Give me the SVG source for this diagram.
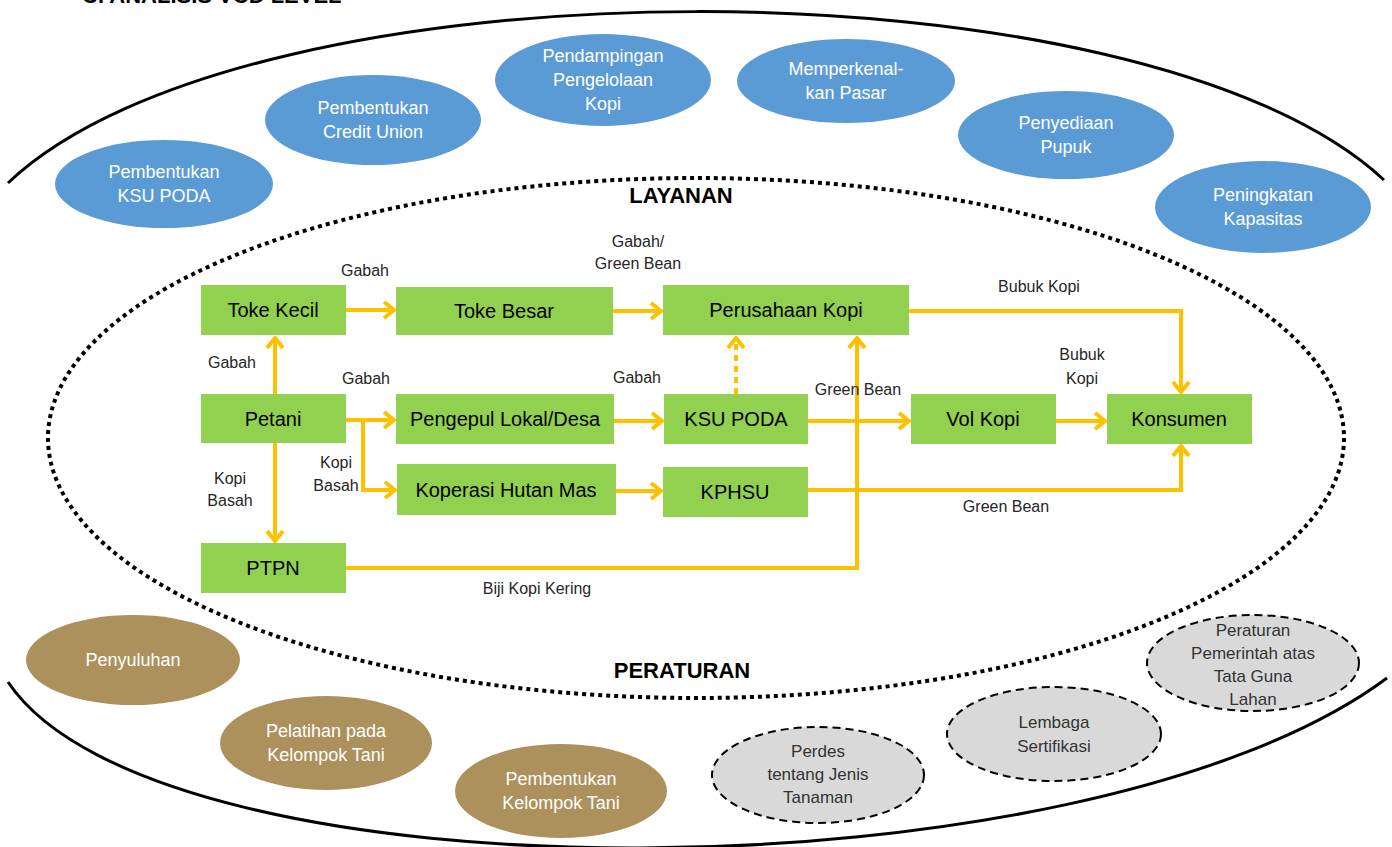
<svg xmlns="http://www.w3.org/2000/svg" width="1392" height="847" viewBox="0 0 1392 847">
  <style>
    .title { font-family: "Liberation Sans", Arial, sans-serif; font-weight: bold; font-size: 22px; fill: #000; }
    .head { font-family: "Liberation Sans Narrow", "Liberation Sans", Arial, sans-serif; font-weight: bold; font-size: 22px; fill: #000; text-anchor: middle; }
    .box { fill: #92D050; }
    .boxtxt { font-family: "Liberation Sans Narrow", "Liberation Sans", Arial, sans-serif; font-size: 20px; fill: #000; text-anchor: middle; }
    .lbl { font-family: "Liberation Sans Narrow", "Liberation Sans", Arial, sans-serif; font-size: 16px; fill: #262626; text-anchor: middle; }
    .blue { fill: #5B9BD5; }
    .brown { fill: #AD915C; }
    .grey { fill: #D9D9D9; stroke: #000; stroke-width: 2; stroke-dasharray: 8 5; }
    .wtxt { font-family: "Liberation Sans Narrow", "Liberation Sans", Arial, sans-serif; font-size: 18px; fill: #fff; text-anchor: middle; }
    .gtxt { font-family: "Liberation Sans Narrow", "Liberation Sans", Arial, sans-serif; font-size: 17px; fill: #333; text-anchor: middle; }
    .flow { fill: none; stroke: #FFC000; stroke-width: 4; }
    .dash { stroke-dasharray: 6 5; }
  </style>
  <defs>
    <marker id="arr" viewBox="0 0 14 20" markerWidth="14" markerHeight="20" refX="12" refY="10" orient="auto" markerUnits="userSpaceOnUse">
      <path d="M2,2 L12,10 L2,18" fill="none" stroke="#FFC000" stroke-width="4" stroke-linejoin="miter"/>
    </marker>
  </defs>

  <rect width="1392" height="847" fill="#fff"/>

  <!-- heading, mostly above the top edge -->
  <text class="title" x="82" y="3">C. ANALISIS VCD LEVEL</text>

  <!-- outer boundary arcs -->
  <g id="outer-boundary" fill="none" stroke="#000" stroke-width="3">
    <path d="M8,183 C248,-45 1143,-45 1384,180"/>
    <path d="M8,682 C158,906 1087,902 1387,678"/>
  </g>

  <!-- inner dotted boundary -->
  <ellipse id="inner-boundary" cx="696" cy="438" rx="648" ry="260" fill="none" stroke="#000" stroke-width="4" stroke-dasharray="4 4"/>

  <text class="head" x="681" y="203">LAYANAN</text>
  <text class="head" x="682" y="678">PERATURAN</text>

  <!-- service ellipses -->
  <g id="svc-ksu"><ellipse class="blue" cx="164" cy="184" rx="109" ry="44"/><text class="wtxt" x="164" y="178">Pembentukan</text><text class="wtxt" x="164" y="202">KSU PODA</text></g>
  <g id="svc-cu"><ellipse class="blue" cx="373" cy="120" rx="108" ry="45"/><text class="wtxt" x="373" y="114">Pembentukan</text><text class="wtxt" x="373" y="138">Credit Union</text></g>
  <g id="svc-pendampingan"><ellipse class="blue" cx="603" cy="80" rx="108" ry="46"/><text class="wtxt" x="603" y="62">Pendampingan</text><text class="wtxt" x="603" y="86">Pengelolaan</text><text class="wtxt" x="603" y="110">Kopi</text></g>
  <g id="svc-pasar"><ellipse class="blue" cx="846" cy="81" rx="109" ry="42"/><text class="wtxt" x="846" y="75">Memperkenal-</text><text class="wtxt" x="846" y="99">kan Pasar</text></g>
  <g id="svc-pupuk"><ellipse class="blue" cx="1066" cy="135" rx="108" ry="44"/><text class="wtxt" x="1066" y="129">Penyediaan</text><text class="wtxt" x="1066" y="153">Pupuk</text></g>
  <g id="svc-kapasitas"><ellipse class="blue" cx="1263" cy="207" rx="108" ry="46"/><text class="wtxt" x="1263" y="201">Peningkatan</text><text class="wtxt" x="1263" y="225">Kapasitas</text></g>

  <!-- extension ellipses -->
  <g id="ext-penyuluhan"><ellipse class="brown" cx="133" cy="660" rx="107" ry="45"/><text class="wtxt" x="133" y="666">Penyuluhan</text></g>
  <g id="ext-pelatihan"><ellipse class="brown" cx="326" cy="743" rx="106" ry="47"/><text class="wtxt" x="326" y="737">Pelatihan pada</text><text class="wtxt" x="326" y="761">Kelompok Tani</text></g>
  <g id="ext-kelompok"><ellipse class="brown" cx="561" cy="791" rx="106" ry="47"/><text class="wtxt" x="561" y="785">Pembentukan</text><text class="wtxt" x="561" y="809">Kelompok Tani</text></g>

  <!-- regulation ellipses -->
  <g id="reg-perdes"><ellipse class="grey" cx="818" cy="775" rx="106" ry="48"/><text class="gtxt" x="818" y="757">Perdes</text><text class="gtxt" x="818" y="780">tentang Jenis</text><text class="gtxt" x="818" y="803">Tanaman</text></g>
  <g id="reg-sertifikasi"><ellipse class="grey" cx="1054" cy="734" rx="107" ry="47"/><text class="gtxt" x="1054" y="728">Lembaga</text><text class="gtxt" x="1054" y="752">Sertifikasi</text></g>
  <g id="reg-tataguna"><ellipse class="grey" cx="1253" cy="663" rx="106" ry="48"/><text class="gtxt" x="1253" y="636">Peraturan</text><text class="gtxt" x="1253" y="659">Pemerintah atas</text><text class="gtxt" x="1253" y="682">Tata Guna</text><text class="gtxt" x="1253" y="705">Lahan</text></g>

  <!-- flow connectors -->
  <g id="connectors">
    <path class="flow" d="M346,310 H394" marker-end="url(#arr)"/>
    <path class="flow" d="M613,311 H661" marker-end="url(#arr)"/>
    <path class="flow" d="M275,394 V338" marker-end="url(#arr)"/>
    <path class="flow" d="M275,443 V541" marker-end="url(#arr)"/>
    <path class="flow" d="M346,420 H394" marker-end="url(#arr)"/>
    <path class="flow" d="M363,420 V490 H395" marker-end="url(#arr)"/>
    <path class="flow" d="M614,421 H662" marker-end="url(#arr)"/>
    <path class="flow" d="M616,491 H661" marker-end="url(#arr)"/>
    <path class="flow dash" d="M736,394 V338" marker-end="url(#arr)"/>
    <path class="flow" d="M808,421 H909" marker-end="url(#arr)"/>
    <path class="flow" d="M346,568 H857 V338" marker-end="url(#arr)"/>
    <path class="flow" d="M1056,421 H1105" marker-end="url(#arr)"/>
    <path class="flow" d="M909,311 H1181 V392" marker-end="url(#arr)"/>
    <path class="flow" d="M808,490 H1181 V446" marker-end="url(#arr)"/>
  </g>

  <!-- connector labels -->
  <g id="connector-labels">
    <text class="lbl" x="365" y="276">Gabah</text>
    <text class="lbl" x="638" y="247">Gabah/</text>
    <text class="lbl" x="638" y="269">Green Bean</text>
    <text class="lbl" x="1039" y="292">Bubuk Kopi</text>
    <text class="lbl" x="232" y="368">Gabah</text>
    <text class="lbl" x="366" y="384">Gabah</text>
    <text class="lbl" x="637" y="383">Gabah</text>
    <text class="lbl" x="858" y="395">Green Bean</text>
    <text class="lbl" x="1082" y="360">Bubuk</text>
    <text class="lbl" x="1082" y="384">Kopi</text>
    <text class="lbl" x="230" y="484">Kopi</text>
    <text class="lbl" x="230" y="506">Basah</text>
    <text class="lbl" x="336" y="468">Kopi</text>
    <text class="lbl" x="336" y="491">Basah</text>
    <text class="lbl" x="1006" y="512">Green Bean</text>
    <text class="lbl" x="537" y="594">Biji Kopi Kering</text>
  </g>

  <!-- value-chain actors -->
  <g id="toke-kecil"><rect class="box" x="201" y="285" width="145" height="50"/><text class="boxtxt" x="273" y="317">Toke Kecil</text></g>
  <g id="toke-besar"><rect class="box" x="396" y="287" width="217" height="48"/><text class="boxtxt" x="504" y="318">Toke Besar</text></g>
  <g id="perusahaan-kopi"><rect class="box" x="663" y="285" width="246" height="50"/><text class="boxtxt" x="786" y="317">Perusahaan  Kopi</text></g>
  <g id="petani"><rect class="box" x="201" y="394" width="145" height="49"/><text class="boxtxt" x="273" y="426">Petani</text></g>
  <g id="pengepul"><rect class="box" x="396" y="394" width="218" height="50"/><text class="boxtxt" x="505" y="426">Pengepul  Lokal/Desa</text></g>
  <g id="ksu-poda"><rect class="box" x="664" y="394" width="144" height="50"/><text class="boxtxt" x="736" y="426">KSU PODA</text></g>
  <g id="vol-kopi"><rect class="box" x="911" y="394" width="145" height="50"/><text class="boxtxt" x="983" y="426">Vol Kopi</text></g>
  <g id="konsumen"><rect class="box" x="1107" y="394" width="145" height="50"/><text class="boxtxt" x="1179" y="426">Konsumen</text></g>
  <g id="koperasi"><rect class="box" x="397" y="464" width="219" height="51"/><text class="boxtxt" x="506" y="497">Koperasi  Hutan Mas</text></g>
  <g id="kphsu"><rect class="box" x="663" y="467" width="145" height="50"/><text class="boxtxt" x="735" y="499">KPHSU</text></g>
  <g id="ptpn"><rect class="box" x="201" y="543" width="145" height="50"/><text class="boxtxt" x="273" y="575">PTPN</text></g>
</svg>
